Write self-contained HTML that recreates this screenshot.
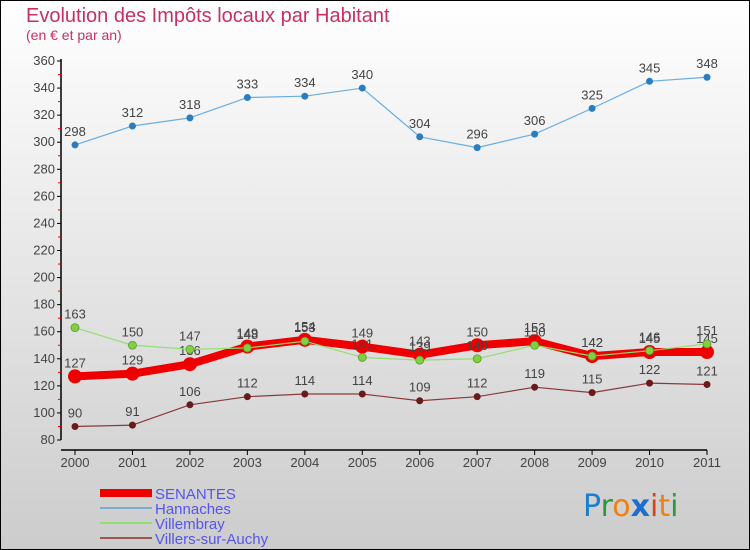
<!DOCTYPE html>
<html><head><meta charset="utf-8"><style>
body{margin:0;}
svg{display:block;font-family:"Liberation Sans",sans-serif;}
</style></head><body>
<svg width="750" height="550" id="c">
<defs><linearGradient id="bg" x1="0" y1="0" x2="0" y2="1"><stop offset="0" stop-color="#ffffff"/><stop offset="1" stop-color="#cccccc"/></linearGradient></defs>
<rect x="0.5" y="0.5" width="749" height="549" fill="url(#bg)" stroke="#000"/>
<text x="26" y="22" font-size="20" fill="#c8305e">Evolution des Impôts locaux par Habitant</text>
<text x="26" y="40" font-size="14" fill="#c8305e">(en € et par an)</text>
<g id="axes"></g><g id="series"></g><g id="legend"></g>
<text x="583" y="516" font-size="30" font-family="'DejaVu Sans',sans-serif"><tspan fill="#1a7fd0">P</tspan><tspan fill="#2a9a3a">r</tspan><tspan fill="#f08010">o</tspan><tspan fill="#1a6fd0" font-weight="bold">x</tspan><tspan fill="#e04010">i</tspan><tspan fill="#f08010">t</tspan><tspan fill="#2a9a3a">i</tspan></text>
</svg>
<script>
const years=[2000,2001,2002,2003,2004,2005,2006,2007,2008,2009,2010,2011];
const yTicks=[80,100,120,140,160,180,200,220,240,260,280,300,320,340,360];
const senantes=[127,129,136,149,154,149,143,150,153,142,145,145];
const hannaches=[298,312,318,333,334,340,304,296,306,325,345,348];
const villembray=[163,150,147,148,153,141,139,140,150,142,146,151];
const villers=[90,91,106,112,114,114,109,112,119,115,122,121];
const NS="http://www.w3.org/2000/svg";
const X=i=>75+i*(707-75)/11;
const Y=v=>440-(v-80)*(440-61)/280;
function mk(tag,at,parent){const e=document.createElementNS(NS,tag);for(const k in at)e.setAttribute(k,at[k]);parent.appendChild(e);return e;}
const ax=document.getElementById('axes');
let l=mk('line',{x1:61,y1:59,x2:61,y2:440,stroke:'#000','stroke-width':1.5},ax);


l=mk('line',{x1:61,y1:450,x2:707,y2:450,stroke:'#000','stroke-width':1.5},ax);


yTicks.forEach((v,i)=>{const y=Y(v);
 mk('line',{x1:57,y1:y,x2:61,y2:y,stroke:'#000'},ax);
 if(i<yTicks.length-1)mk('line',{x1:58,y1:Y(v+10),x2:61,y2:Y(v+10),stroke:'#e00'},ax);
 const t=mk('text',{x:55,y:y+4,'text-anchor':'end','font-size':13,fill:'#444'},ax);t.textContent=v;
 
 });
years.forEach((yr,i)=>{const x=X(i);
 mk('line',{x1:x,y1:450,x2:x,y2:455,stroke:'#000'},ax);
 const t=mk('text',{x:x,y:467,'text-anchor':'middle','font-size':13,fill:'#444'},ax);t.textContent=yr;
 
 });
const sg=document.getElementById('series');
function series(name,data,color,dot,w,r){
 const g=mk('g',{},sg);
 
 
 mk('polyline',{points:data.map((v,i)=>X(i)+','+Y(v)).join(' '),fill:'none',stroke:color,'stroke-width':w,'stroke-linejoin':'round'},g);
 data.forEach((v,i)=>{const c=mk('circle',{cx:X(i),cy:Y(v),r:r,fill:dot,stroke:name=='villembray'?'#5a9a30':'none','stroke-width':0.8},g);
  
  
  const t=mk('text',{x:X(i),y:Y(v)-9,'text-anchor':'middle','font-size':13,fill:'#444'},g);t.textContent=v;
  
  });
}
series('hannaches',hannaches,'#6aaee0','#2a7ec0',1.2,3.5);
series('villers',villers,'#8a3a3a','#6a1a1a',1.2,3.5);
series('senantes',senantes,'#ee0000','#ee0000',8,7);
series('villembray',villembray,'#90e070','#80d040',1.2,4);
const lg=document.getElementById('legend');
[['SENANTES','#ee0000',8],['Hannaches','#7aaed0',2],['Villembray','#90e070',2],['Villers-sur-Auchy','#9a5555',2]].forEach((d,i)=>{
 const y=493+i*15;
 const g=mk('g',{},lg);
 
 
 mk('line',{x1:100,y1:y,x2:152,y2:y,stroke:d[1],'stroke-width':d[2]},g);
 const t=mk('text',{x:155,y:y+6,'font-size':15,fill:'#5555ee'},g);t.textContent=d[0];
});
</script>
</body></html>
